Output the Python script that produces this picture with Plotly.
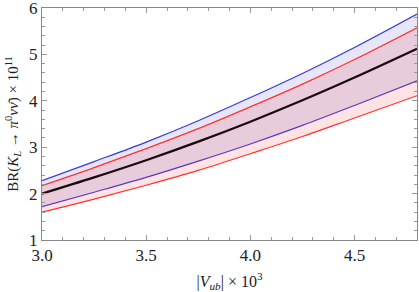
import plotly.graph_objects as go

vub = [3.0, 3.25, 3.5, 3.75, 4.0, 4.25, 4.5, 4.8]
central = [2.00, 2.35, 2.72, 3.12, 3.55, 4.01, 4.50, 5.12]
blue_upper = [2.28, 2.69, 3.11, 3.57, 4.07, 4.59, 5.15, 5.87]
blue_lower = [1.72, 2.03, 2.35, 2.70, 3.07, 3.47, 3.90, 4.43]
red_upper = [2.17, 2.56, 2.97, 3.40, 3.87, 4.36, 4.89, 5.575]
red_lower = [1.60, 1.88, 2.18, 2.50, 2.86, 3.23, 3.63, 4.11]

x_ticks = [3.0, 3.5, 4.0, 4.5]
y_ticks = [1, 2, 3, 4, 5, 6]

BLUE = "#3a3ad0"
RED = "#ff3030"
fig = go.Figure()
fig.add_trace(go.Scatter(x=vub, y=blue_lower, mode="lines", line=dict(color=BLUE, width=1.2, shape="spline"),
                         showlegend=False, hoverinfo="skip"))
fig.add_trace(go.Scatter(x=vub, y=blue_upper, mode="lines", line=dict(color=BLUE, width=1.2, shape="spline"),
                         fill="tonexty", fillcolor="rgba(60,60,200,0.13)", showlegend=False, hoverinfo="skip"))
fig.add_trace(go.Scatter(x=vub, y=red_lower, mode="lines", line=dict(color=RED, width=1.2, shape="spline"),
                         showlegend=False, hoverinfo="skip"))
fig.add_trace(go.Scatter(x=vub, y=red_upper, mode="lines", line=dict(color=RED, width=1.2, shape="spline"),
                         fill="tonexty", fillcolor="rgba(255,60,60,0.15)", showlegend=False, hoverinfo="skip"))
fig.add_trace(go.Scatter(x=vub, y=central, mode="lines", line=dict(color="#1a0a10", width=2.2, shape="spline"),
                         showlegend=False, hoverinfo="skip"))
# invisible trace so the mirrored frame axes (top/right ticks) are drawn
fig.add_trace(go.Scatter(x=vub, y=central, mode="lines", line=dict(width=0), opacity=0,
                         xaxis="x2", yaxis="y2", showlegend=False, hoverinfo="skip"))

axis_common = dict(
    showgrid=False, zeroline=False, showline=True, linecolor="#888888", linewidth=1,
    mirror=True, ticks="inside", ticklen=5, tickcolor="#999999", tickwidth=1,
    tickfont=dict(family="Liberation Serif", size=17, color="#222222"),
    automargin=False, ticklabeloverflow="allow",
)
mirror_common = dict(showgrid=False, zeroline=False, showline=False, ticks="inside", ticklen=5,
                     tickcolor="#999999", showticklabels=False, automargin=False)

fig.update_layout(
    width=419, height=292,
    margin=dict(l=42, r=2, t=8, b=52),
    paper_bgcolor="white", plot_bgcolor="white",
    xaxis=dict(range=[3.0, 4.8], tickvals=x_ticks, ticktext=[f"{v:.1f}" for v in x_ticks],
               minor=dict(dtick=0.1, ticks="inside", ticklen=3, tickcolor="#999999"),
               title=dict(text="|<i>V<sub>ub</sub></i>| × 10<sup>3</sup>",
                          font=dict(family="Liberation Serif", size=16, color="#222222"), standoff=16),
               **axis_common),
    yaxis=dict(range=[1, 6], tickvals=y_ticks, ticktext=[str(v) for v in y_ticks],
               minor=dict(dtick=0.2, ticks="inside", ticklen=3, tickcolor="#999999"),
               title=dict(text="BR(<i>K<sub>L</sub></i> → <i>π</i><sup>0</sup><i>νν̄</i>) × 10<sup>11</sup>",
                          font=dict(family="Liberation Serif", size=15, color="#222222"), standoff=6),
               **axis_common),
    xaxis2=dict(range=[3.0, 4.8], overlaying="x", side="top", tickvals=x_ticks,
                minor=dict(dtick=0.1, ticks="inside", ticklen=3, tickcolor="#999999"), **mirror_common),
    yaxis2=dict(range=[1, 6], overlaying="y", side="right", tickvals=y_ticks,
                minor=dict(dtick=0.2, ticks="inside", ticklen=3, tickcolor="#999999"), **mirror_common),
)

fig.write_html("out.html", config={"displayModeBar": False},
               post_script="document.body.style.margin='0';document.body.style.overflow='hidden';")
